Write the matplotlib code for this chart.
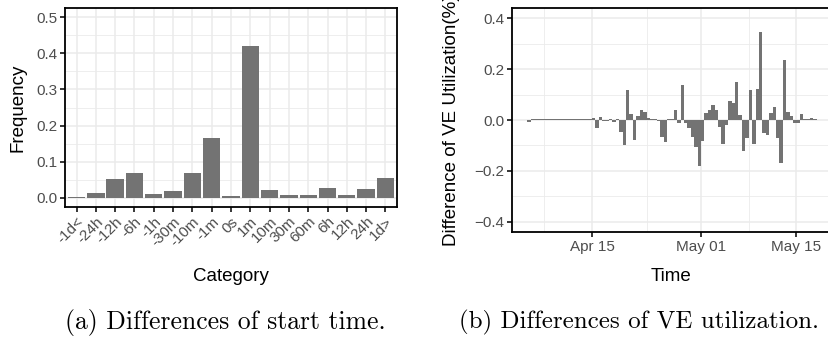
import numpy as np
import pandas as pd
import matplotlib
matplotlib.use("Agg")
import matplotlib.pyplot as plt
import matplotlib.dates as mdates
from matplotlib.ticker import MultipleLocator

plt.rcParams['font.family'] = ['Liberation Sans', 'DejaVu Sans']

# (a) differences of start time
categories = ['-1d<', '-24h', '-12h', '-6h', '-1h', '-30m', '-10m', '-1m', '0s',
              '1m', '10m', '30m', '60m', '6h', '12h', '24h', '1d>']
frequency = [0.003, 0.014, 0.052, 0.069, 0.011, 0.019, 0.069, 0.165, 0.006,
             0.421, 0.022, 0.008, 0.008, 0.028, 0.008, 0.025, 0.055]

# (b) differences of VE utilization, half-day bins
start_time = '2019-04-05 18:00'
ve_diff = [-0.006, 0.004, 0.002, 0.002, 0.002, 0.002, 0.002, 0.004, 0.002, 0.002,
           0.002, 0.002, 0.002, 0.002, 0.002, 0.002, 0.002, 0.002, 0.002, 0.007,
           -0.030, 0.010, -0.005, -0.003, 0.002, -0.008, 0.002, -0.046, -0.098, 0.118,
           0.024, -0.078, 0.016, 0.039, 0.033, 0.007, 0.003, 0.002, -0.003, -0.065,
           -0.085, 0.005, 0.003, 0.039, -0.013, 0.137, -0.013, -0.033, -0.068, -0.105,
           -0.180, -0.081, 0.026, 0.039, 0.059, 0.039, -0.029, -0.094, -0.020, 0.075,
           0.068, 0.149, 0.020, -0.120, -0.070, 0.118, -0.094, 0.120, 0.345, -0.050,
           -0.059, 0.026, 0.050, -0.072, -0.167, 0.235, 0.033, 0.016, -0.010, -0.010,
           0.024, 0.002, 0.002, 0.008, 0.002]
ve_time = pd.date_range(start_time, periods=len(ve_diff), freq='12h')

bar_col = '#737373'
grid_col = '#EBEBEB'
tick_col = '#4D4D4D'

fig = plt.figure(figsize=(8.29, 3.42), dpi=100)
W, H = 829, 342


def style(ax):
    ax.set_axisbelow(True)
    ax.grid(True, which='major', color=grid_col, lw=1.1)
    ax.grid(True, which='minor', color=grid_col, lw=0.6)
    for s in ax.spines.values():
        s.set_linewidth(1.3)
        s.set_color('black')
    ax.tick_params(which='major', length=3.5, width=1.1, color='black',
                   labelcolor=tick_col, labelsize=11, pad=2)
    ax.tick_params(which='minor', length=0)


# left panel
ax1 = fig.add_axes([65 / W, (H - 207) / H, (397 - 65) / W, (207 - 8) / H])
x = np.arange(len(categories))
ax1.bar(x, frequency, width=0.9, color=bar_col, zorder=2)
ax1.set_xlim(-0.6, len(categories) - 0.4)
ax1.set_ylim(-0.025, 0.525)
ax1.set_xticks(x)
ax1.set_xticklabels(categories, rotation=45, ha='right', va='top',
                    rotation_mode='anchor')
ax1.yaxis.set_major_locator(MultipleLocator(0.1))
ax1.yaxis.set_minor_locator(MultipleLocator(0.05))
ax1.yaxis.set_major_formatter(plt.FuncFormatter(lambda v, p: f'{v:.1f}'))
style(ax1)
ax1.set_ylabel('Frequency', fontsize=13.5, labelpad=7)
ax1.set_xlabel('Category', fontsize=13.5, labelpad=14)

# right panel
ax2 = fig.add_axes([512 / W, (H - 232) / H, (831 - 512) / W, (232 - 8) / H])
ax2.bar(ve_time, ve_diff, width=0.5, color=bar_col, zorder=2)
ax2.set_xlim(pd.Timestamp('2019-04-03 06:00'), pd.Timestamp('2019-05-20 02:00'))
ax2.set_ylim(-0.44, 0.44)
ax2.set_xticks([pd.Timestamp('2019-04-15'), pd.Timestamp('2019-05-01'),
                pd.Timestamp('2019-05-15')])
ax2.set_xticks([pd.Timestamp('2019-04-08'), pd.Timestamp('2019-04-23'),
                pd.Timestamp('2019-05-08')], minor=True)
ax2.xaxis.set_major_formatter(mdates.DateFormatter('%b %d'))
ax2.yaxis.set_major_locator(MultipleLocator(0.2))
ax2.yaxis.set_minor_locator(MultipleLocator(0.1))
ax2.yaxis.set_major_formatter(plt.FuncFormatter(lambda v, p: f'{v:.1f}'.replace('-', '\u2212')))
style(ax2)
ax2.set_ylabel('Difference of VE Utilization(%)', fontsize=13.5, labelpad=10)
ax2.set_xlabel('Time', fontsize=13.5, labelpad=10)

# captions
fig.text(225 / W, 1 - 322 / H, '(a) Differences of start time.', family='cmr10',
         fontsize=18.5, ha='center', va='center')
fig.text(639 / W, 1 - 322 / H, '(b) Differences of VE utilization.', family='cmr10',
         fontsize=18, ha='center', va='center')

fig.savefig('out.png', dpi=100)
